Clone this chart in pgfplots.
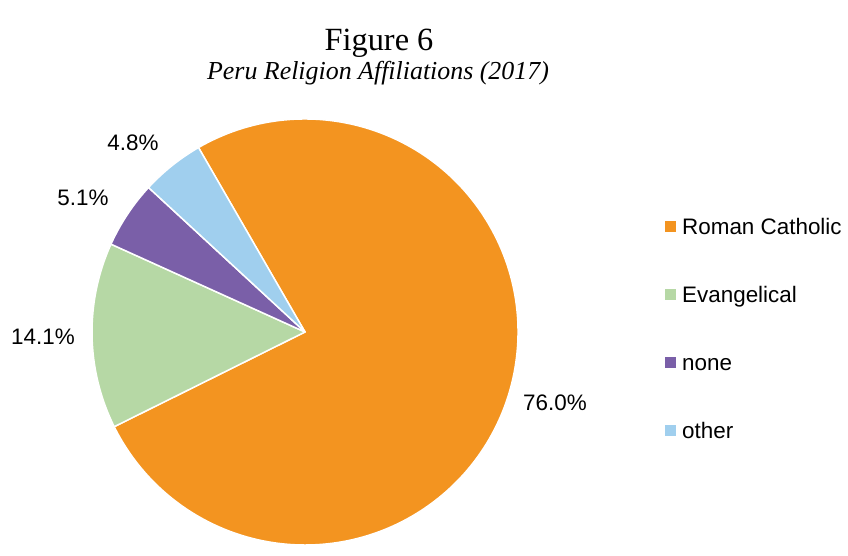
\documentclass[border=0pt]{standalone}
\usepackage{pgfplots}
\pgfplotsset{compat=1.18}
\usepackage{pgfplotstable}
\usepackage{fontspec}
\setmainfont{Liberation Serif}
\newfontfamily\arial{Liberation Sans}

\definecolor{rc}{HTML}{F39420}
\definecolor{ev}{HTML}{B6D8A5}
\definecolor{no}{HTML}{7A5FA8}
\definecolor{ot}{HTML}{A0CFEE}

% share (%), colour, label position (px, from top left)
\pgfplotstableread{
value col lx ly
76.0 rc 555 403
14.1 ev 43 337
5.1 no 83 198
4.8 ot 133 143
}\pietable

\begin{document}
\begin{tikzpicture}
\begin{axis}[
    scale only axis,
    width=848bp, height=545bp,
    xmin=0, xmax=848, ymin=0, ymax=545,
    y dir=reverse,
    hide axis, clip=false,
    legend style={
        draw=none, fill=none, inner sep=0pt,
        at={(axis cs:665,218)}, anchor=north west,
        font=\arial\fontsize{22.5}{27}\selectfont,
        row sep=52bp, column sep=6bp,
        nodes={inner sep=0pt, text height=16bp, text depth=0bp},
    },
    legend cell align=left,
    legend image code/.code={\fill[#1] (0bp,-5.5bp) rectangle (11bp,5.5bp);},
]
\addlegendimage{fill=rc, draw=none}
\addlegendentry{Roman Catholic}
\addlegendimage{fill=ev, draw=none}
\addlegendentry{Evangelical}
\addlegendimage{fill=no, draw=none}
\addlegendentry{none}
\addlegendimage{fill=ot, draw=none}
\addlegendentry{other}

\pgfplotsextra{
    \path (axis cs:0,0) rectangle (axis cs:848,545);
    \gdef\angA{120}
    \pgfplotstablegetrowsof{\pietable}
    \pgfmathtruncatemacro\nlast{\pgfplotsretval-1}
    \foreach \i in {0,...,\nlast}{
        \pgfplotstablegetelem{\i}{value}\of\pietable \let\v\pgfplotsretval
        \pgfplotstablegetelem{\i}{col}\of\pietable \let\c\pgfplotsretval
        \pgfplotstablegetelem{\i}{lx}\of\pietable \let\lx\pgfplotsretval
        \pgfplotstablegetelem{\i}{ly}\of\pietable \let\ly\pgfplotsretval
        \pgfmathsetmacro\angB{\angA-3.6*\v}
        \filldraw[fill=\c, draw=white, line width=1.5bp, line join=round]
            (axis cs:305,332) -- ++(\angA:213bp)
            arc[start angle=\angA, end angle=\angB, radius=213bp] -- cycle;
        \node[font=\arial\fontsize{22.5}{27}\selectfont] at (axis cs:\lx,\ly) {\v\%};
        \xdef\angA{\angB}
    }
    \node[font=\fontsize{32.5}{38}\selectfont, anchor=base] at (axis cs:379,50) {Figure 6};
    \node[font=\itshape\fontsize{26}{31}\selectfont, anchor=base] at (axis cs:378,79) {Peru Religion Affiliations (2017)};
}
\end{axis}
\end{tikzpicture}
\end{document}
